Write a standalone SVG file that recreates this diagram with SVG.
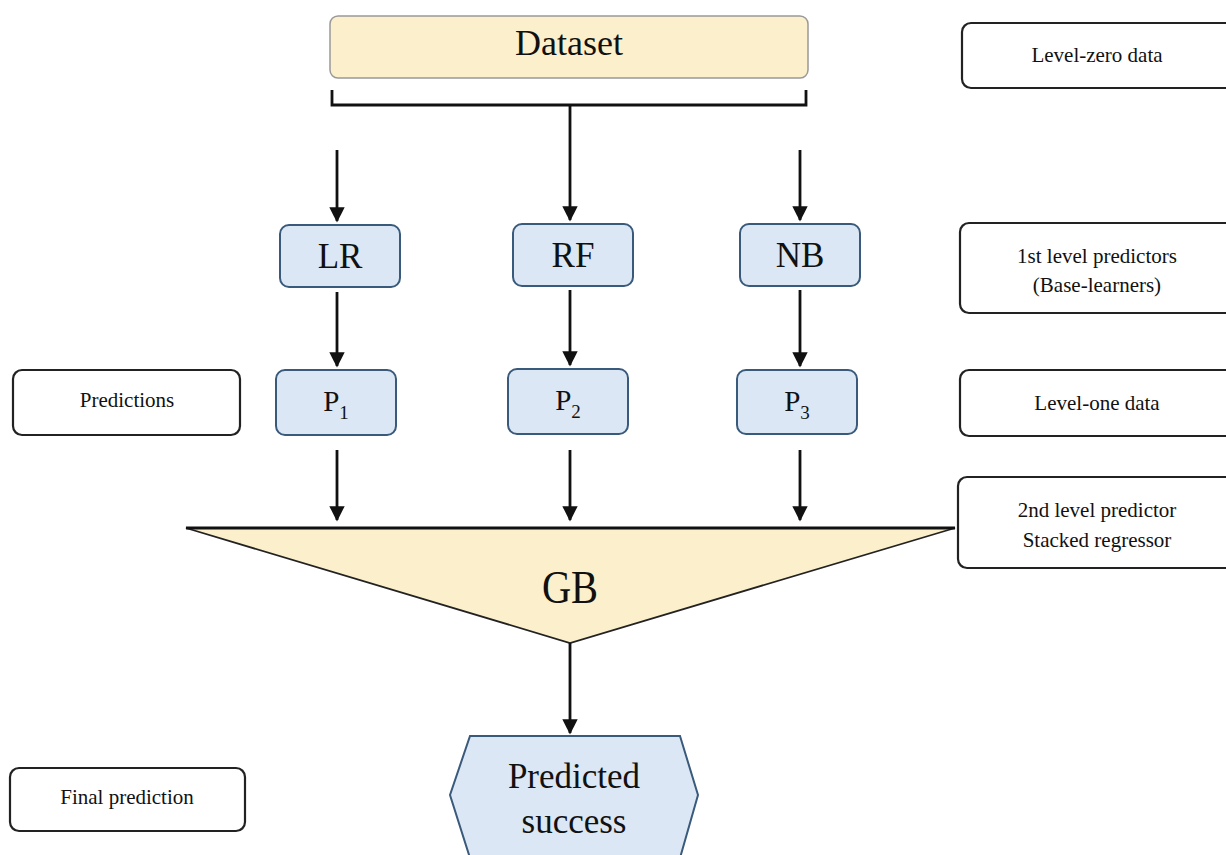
<svg xmlns="http://www.w3.org/2000/svg" width="1226" height="855" viewBox="0 0 1226 855">
<defs>
<marker id="ah" viewBox="0 0 10 10" refX="9" refY="5" markerWidth="5.5" markerHeight="5.5" markerUnits="strokeWidth" orient="auto">
<path d="M0,0 L10,5 L0,10 z" fill="#111"/>
</marker>
<style>
text{font-family:"Liberation Serif","Times New Roman",serif;fill:#111;text-anchor:middle}
.blue{fill:#dbe7f4;stroke:#3a5a7c;stroke-width:2}
.note{fill:#fff;stroke:#222;stroke-width:2.2}
.conn{stroke:#111;stroke-width:2.8;fill:none}
.big{font-size:35px}
.lbl{font-size:21px}
</style>
</defs>
<rect width="1226" height="855" fill="#fff"/>
<g id="dataset"><rect x="330" y="16" width="478" height="62" rx="8" fill="#fcefcb" stroke="#999" stroke-width="1.5"/><text x="569" y="55" font-size="36">Dataset</text></g>
<g id="lr"><rect class="blue" x="280" y="225" width="120" height="62" rx="9"/><text class="big" x="340" y="268">LR</text></g>
<g id="rf"><rect class="blue" x="513" y="224" width="120" height="62" rx="9"/><text class="big" x="573" y="267">RF</text></g>
<g id="nb"><rect class="blue" x="740" y="224" width="120" height="62" rx="9"/><text class="big" x="800" y="267">NB</text></g>
<g id="p1"><rect class="blue" x="276" y="370" width="120" height="65" rx="9"/><text x="336" y="411" font-size="29">P<tspan font-size="19" dy="8">1</tspan></text></g>
<g id="p2"><rect class="blue" x="508" y="369" width="120" height="65" rx="9"/><text x="568" y="410" font-size="29">P<tspan font-size="19" dy="8">2</tspan></text></g>
<g id="p3"><rect class="blue" x="737" y="370" width="120" height="64" rx="9"/><text x="797" y="411" font-size="29">P<tspan font-size="19" dy="8">3</tspan></text></g>
<g id="gb"><polygon points="186,528 955,528 570,643" fill="#fcefcb" stroke="#222" stroke-width="1.8"/><line x1="186" y1="528" x2="955" y2="528" stroke="#111" stroke-width="2.8"/><text x="570" y="603" font-size="46" transform="translate(570 0) scale(0.88 1) translate(-570 0)">GB</text></g>
<g id="predicted"><polygon points="470,736 680,736 698,795 680,858 470,858 450,795" fill="#dbe7f4" stroke="#3a5a7c" stroke-width="2"/><text class="big" x="574" y="788">Predicted</text><text class="big" x="574" y="833">success</text></g>
<g id="note-predictions"><rect class="note" x="13" y="370" width="227" height="65" rx="9"/><text class="lbl" x="127" y="407">Predictions</text></g>
<g id="note-final"><rect class="note" x="10" y="768" width="235" height="63" rx="9"/><text class="lbl" x="127" y="804">Final prediction</text></g>
<g id="note-level0"><rect class="note" x="962" y="23" width="280" height="65" rx="9"/><text class="lbl" x="1097" y="62">Level-zero data</text></g>
<g id="note-first"><rect class="note" x="960" y="223" width="282" height="90" rx="9"/><text class="lbl" x="1097" y="263">1st level predictors</text><text class="lbl" x="1097" y="292">(Base-learners)</text></g>
<g id="note-level1"><rect class="note" x="960" y="370" width="282" height="66" rx="9"/><text class="lbl" x="1097" y="410">Level-one data</text></g>
<g id="note-second"><rect class="note" x="958" y="477" width="284" height="91" rx="9"/><text class="lbl" x="1097" y="517">2nd level predictor</text><text class="lbl" x="1097" y="547">Stacked regressor</text></g>
<g id="connectors">
<path class="conn" d="M332,90 V105 H806 V90 M570,105 V150"/>
<line class="conn" x1="337" y1="150" x2="337" y2="221" marker-end="url(#ah)"/>
<line class="conn" x1="570" y1="150" x2="570" y2="220" marker-end="url(#ah)"/>
<line class="conn" x1="800" y1="150" x2="800" y2="220" marker-end="url(#ah)"/>
<line class="conn" x1="337" y1="292" x2="337" y2="366" marker-end="url(#ah)"/>
<line class="conn" x1="570" y1="290" x2="570" y2="365" stroke-width="3.5" marker-end="url(#ah)"/>
<line class="conn" x1="800" y1="290" x2="800" y2="366" marker-end="url(#ah)"/>
<line class="conn" x1="337" y1="450" x2="337" y2="520" marker-end="url(#ah)"/>
<line class="conn" x1="570" y1="450" x2="570" y2="520" stroke-width="3.5" marker-end="url(#ah)"/>
<line class="conn" x1="800" y1="450" x2="800" y2="520" marker-end="url(#ah)"/>
<line class="conn" x1="570" y1="643" x2="570" y2="733" stroke-width="3.5" marker-end="url(#ah)"/>
</g>
</svg>
